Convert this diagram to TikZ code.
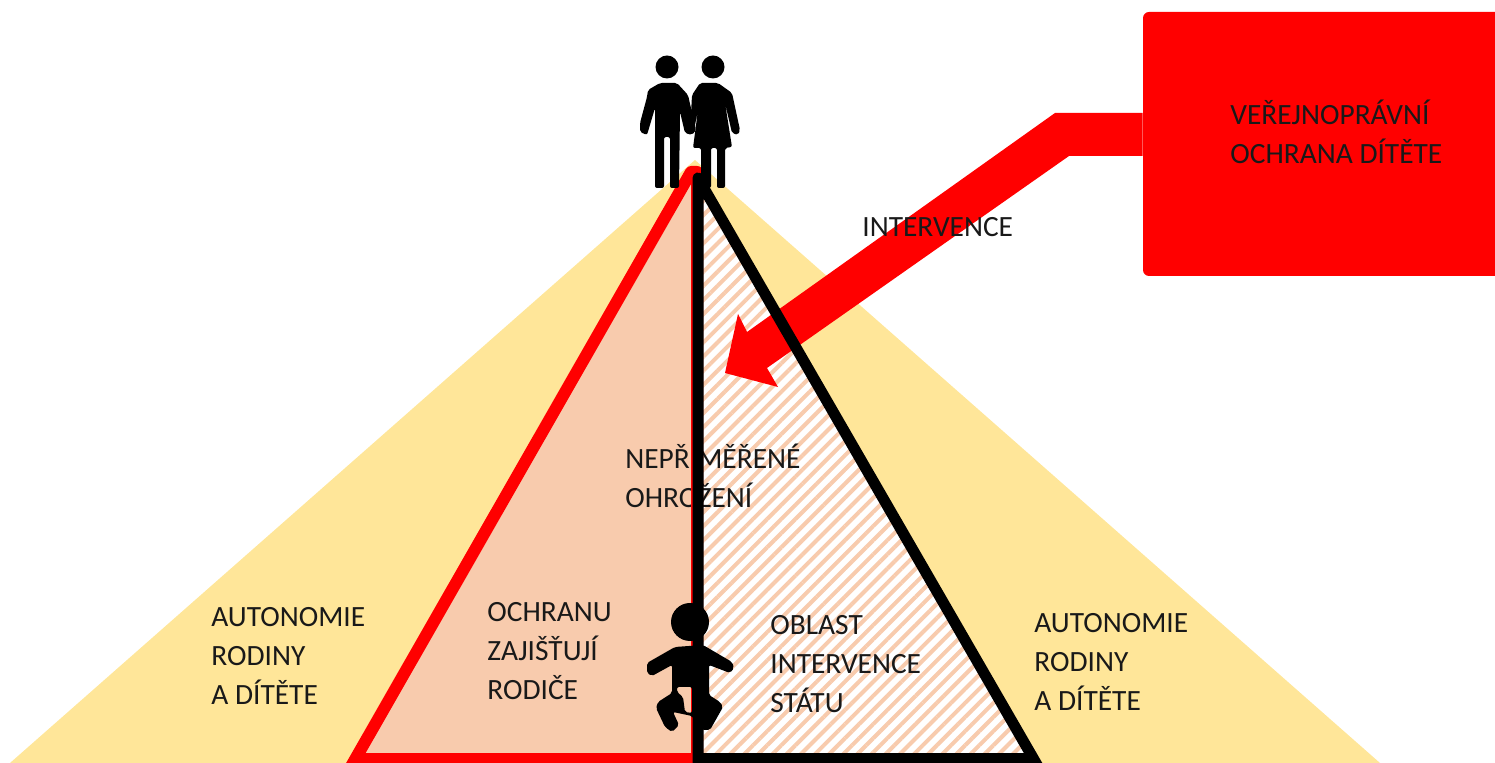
\documentclass[tikz,border=0pt]{standalone}
\usepackage{fontspec}
\setmainfont{Carlito}
\usetikzlibrary{patterns.meta}
\definecolor{autoyellow}{HTML}{FFE699}
\definecolor{peach}{HTML}{F8CBAD}

\begin{document}
\begin{tikzpicture}[
        x=.5pt, y=-.5pt,
        every node/.style={inner sep=0pt},
        caption/.style={anchor=west, align=left, text=black!90, font=\fontsize{14.7}{19.7}\selectfont},
        figure/.style={fill=black, rounded corners=1pt},
        side/.style={line join=round}
    ]
    \clip (0,0) rectangle (1495,763);

    % Areas
    \fill[autoyellow] (10,763) -- (695,160) -- (1380,763) -- cycle;
    \fill[peach] (356,758) -- (691,172) -- (697,172) -- (697,758) -- cycle;
    \fill[white] (698,178) -- (1033,758) -- (698,758) -- cycle;
    \fill[pattern={Lines[angle=45,distance=5pt,line width=2pt]}, pattern color=peach]
        (698,178) -- (1033,758) -- (698,758) -- cycle;

    % Nodes
    \node (autoL) [caption] at (211,656) {AUTONOMIE \\ RODINY \\ A DÍTĚTE};
    \node (autoR) [caption] at (1034,662) {AUTONOMIE \\ RODINY \\ A DÍTĚTE};
    \node (parents) [caption] at (487,651) {OCHRANU \\ ZAJIŠŤUJÍ \\ RODIČE};
    \node (state) [caption] at (770,664) {OBLAST \\ INTERVENCE \\ STÁTU};
    \node (threat) [caption] at (625,476) {NEPŘIMĚŘENÉ \\ OHROŽENÍ};

    % Triangles
    \draw[red, side, line width=6pt] (349,770) -- (691,172) -- (697,172) -- (697,763);
    \draw[red, line width=5pt] (356,758) -- (697,758);

    % Box and arrow
    \node (box) [fill=red, rounded corners=3pt, minimum width=200pt, minimum height=132pt] at (1343,144) {};
    \fill[red] (box.west |- 0,113) -- (1055,113) -- (747,332) -- (738,314) -- (725,373)
        -- (778,387) -- (767,368) -- (1069,156) -- (box.west |- 0,156) -- cycle;
    \draw[black, side, line width=5.5pt] (1040,770) -- (698,178) -- (698,763);
    \draw[black, line width=5pt] (698,758) -- (1033,758);

    % Man
    \fill (667,67) circle (11.5);
    \path[figure] (648,90) -- (660,83) -- (677,83) -- (688,95) -- (696,130) -- (692,135) -- (685,133)
        -- (680,112) -- (679,188) -- (670,188) -- (670,137) -- (664,137) -- (664,188) -- (655,188)
        -- (655,108) -- (647,135) -- (640,132) -- (640,123) -- (647,97) -- cycle;

    % Woman
    \fill (713,67) circle (11.5);
    \path[figure] (692,95) -- (700,83) -- (718,83) -- (732,93) -- (740,130) -- (738,135) -- (732,133)
        -- (725,103) -- (732,147) -- (725,148) -- (725,188) -- (717,188) -- (717,148) -- (711,148)
        -- (711,188) -- (701,188) -- (701,148) -- (693,148) -- (698,110) -- (694,130) -- (690,133) -- cycle;

    % Baby
    \fill (690,622) circle (19);
    \path[figure, even odd rule] (675,647) -- (647,663) -- (647,673) -- (652,676) -- (672,665) -- (672,693)
        -- (658,702) -- (656,708) -- (665,727) -- (672,732) -- (679,725) -- (673,712) -- (692,716)
        -- (702,730) -- (710,730) -- (723,707) -- (720,702) -- (709,695) -- (709,665) -- (730,673)
        -- (734,668) -- (732,662) -- (703,645) -- cycle
        (677,687) -- (692,687) -- (692,713) -- (685,712) -- (683,697) -- (677,692) -- cycle;

    % Labels
    \node (intervence) [caption] at (862,227) {INTERVENCE};
    \node (ochrana) [caption] at (1230,132) {VEŘEJNOPRÁVNÍ \\ OCHRANA DÍTĚTE};

\end{tikzpicture}
\end{document}
